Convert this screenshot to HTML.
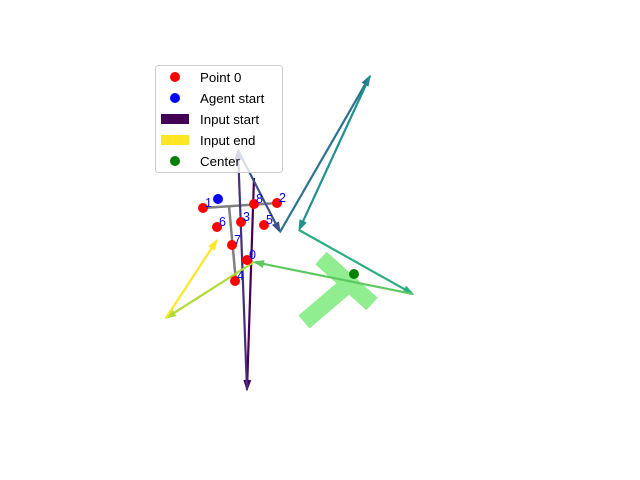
<!DOCTYPE html>
<html><head><meta charset="utf-8"><style>
body{margin:0;background:#fff;}
svg{display:block;font-family:"Liberation Sans","DejaVu Sans",sans-serif;}
</style></head><body>
<svg id="chart" width="640" height="480" viewBox="0 0 640 480" xmlns="http://www.w3.org/2000/svg">
<g id="shape"></g>
<g id="tshape"></g>
<g id="arrows"></g>
<g id="points"></g>
<g id="legend"></g>
</svg>
<script>
const ptX=[247,203,277,241,235,264,217,232,254];
const ptY=[260,208,203,222,281,225,227,245,204];
const ptLabels=["0","1","2","3","4","5","6","7","8"];
const chainX=[254,247,238,280,370,299,413,254,166,217];
const chainY=[178,390,150,232,76,230,294,262,318,240];
const chainColors=["#440154","#472d7b","#3b528b","#2c728e","#21918c","#28ae80","#5ec962","#addc30","#fde725"];
const agentStart=[218,199];
const center=[354,274];
const grayH=[[203,208],[278,203]];
const grayV=[[229,206],[236,282]];
const shapeBar=[[321,258],[372,304]];
const shapeStem=[[345,287],[304,322]];
const legendLabels=["Point 0","Agent start","Input start","Input end","Center"];

const NS="http://www.w3.org/2000/svg";
function mk(tag,attrs,parent){const e=document.createElementNS(NS,tag);for(const k in attrs)e.setAttribute(k,attrs[k]);parent.appendChild(e);return e;}

const sg=document.getElementById('shape');
[shapeBar,shapeStem].forEach((s,i)=>{
  const l=mk('line',{x1:s[0][0],y1:s[0][1],x2:s[1][0],y2:s[1][1],stroke:'#90ee90','stroke-width':17},sg);
  
  
});

const tg=document.getElementById('tshape');
[grayH,grayV].forEach((s,i)=>{
  const l=mk('line',{x1:s[0][0],y1:s[0][1],x2:s[1][0],y2:s[1][1],stroke:'#808080','stroke-width':2.5},tg);
  
  
});

const ag=document.getElementById('arrows');
for(let i=0;i<chainColors.length;i++){
  const x1=chainX[i],y1=chainY[i],x2=chainX[i+1],y2=chainY[i+1],c=chainColors[i];
  const g=mk('g',{},ag);
  
  
  const a=Math.atan2(y2-y1,x2-x1),L=10,W=0.33;
  mk('line',{x1:x1,y1:y1,x2:x2-6*Math.cos(a),y2:y2-6*Math.sin(a),stroke:c,'stroke-width':2.2},g);
  const p1=[x2-L*Math.cos(a-W),y2-L*Math.sin(a-W)],p2=[x2-L*Math.cos(a+W),y2-L*Math.sin(a+W)];
  mk('polygon',{points:`${p1[0]},${p1[1]} ${x2},${y2} ${p2[0]},${p2[1]}`,fill:c,stroke:c,'stroke-width':1},g);
}

const pg=document.getElementById('points');
for(let i=0;i<ptX.length;i++){
  const c=mk('circle',{cx:ptX[i],cy:ptY[i],r:5,fill:'#ff0000'},pg);
  
  
  const t=mk('text',{x:ptX[i]+2,y:ptY[i]-1,fill:'#0000ff','font-size':12.5},pg);
  t.textContent=ptLabels[i];
  
  
}
const ab=mk('circle',{cx:agentStart[0],cy:agentStart[1],r:5,fill:'#0000ff'},pg);


const cc=mk('circle',{cx:center[0],cy:center[1],r:5,fill:'#008000'},pg);



const lg=document.getElementById('legend');
const fr=mk('rect',{x:155.5,y:65.5,width:127,height:107,rx:3,fill:'#ffffff','fill-opacity':0.8,stroke:'#cccccc'},lg);


const markers=[['c','#ff0000'],['c','#0000ff'],['r','#440154'],['r','#fde725'],['c','#008000']];
legendLabels.forEach((lab,i)=>{
  const y=77+i*21;
  const g=mk('g',{},lg);
  
  
  if(markers[i][0]==='c') mk('circle',{cx:175,cy:y,r:5,fill:markers[i][1]},g);
  else mk('rect',{x:161,y:y-5,width:28,height:10,fill:markers[i][1]},g);
  const t=mk('text',{x:200,y:y+5,'font-size':13.3,fill:'#000'},g);
  t.textContent=lab;
});
</script>
</body></html>
